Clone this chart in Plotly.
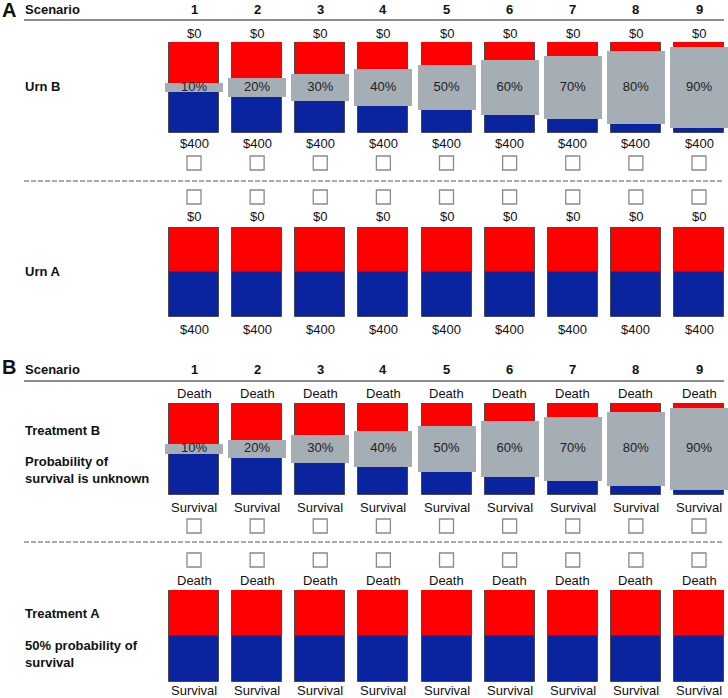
import plotly.graph_objects as go

# ---------------- data ----------------
scenarios = [1, 2, 3, 4, 5, 6, 7, 8, 9]
unknown_pct = [10, 20, 30, 40, 50, 60, 70, 80, 90]   # ambiguous (grey) share, option B
known_red_share = 0.5                                 # option A: 50/50
urn_top_label = "$0"
urn_bottom_label = "$400"
med_top_label = "Death"
med_bottom_label = "Survival"

# ---------------- layout constants (pixels) ----------------
W, H = 728, 698
COL_FIRST_PX = 194.0
COL_STEP_PX = 63.125
BAR_W_PX = 50
GREY_W_PX = 58
RED = "#FF0000"
BLUE = "#0A24A0"
GREY = "#A5ADB5"
FONT = "Liberation Sans, Arial, sans-serif"

def py(p):          # pixel y -> paper y
    return 1 - p / H

def px2x(p):        # pixel x -> data x
    return 1 + (p - COL_FIRST_PX) / COL_STEP_PX

bar_w = BAR_W_PX / COL_STEP_PX
grey_w = GREY_W_PX / COL_STEP_PX

# rows: (axis name, top px, bottom px, has unknown band)
rows = [
    ("y", 42, 133, True),
    ("y2", 227, 317, False),
    ("y3", 403, 495, True),
    ("y4", 590, 682, False),
]

fig = go.Figure()
outline = dict(color="rgba(60,60,60,0.85)", width=1)
for ax, top, bot, unknown in rows:
    fig.add_trace(go.Bar(x=scenarios, y=[1 - known_red_share] * 9, base=[known_red_share] * 9,
                         width=bar_w, marker=dict(color=RED, line=outline), yaxis=ax,
                         hoverinfo="skip", showlegend=False))
    fig.add_trace(go.Bar(x=scenarios, y=[known_red_share] * 9, base=[0] * 9,
                         width=bar_w, marker=dict(color=BLUE, line=outline), yaxis=ax,
                         hoverinfo="skip", showlegend=False))
    if unknown:
        sh = [p / 100 for p in unknown_pct]
        fig.add_trace(go.Bar(x=scenarios, y=sh, base=[0.5 - s / 2 for s in sh],
                             width=grey_w, marker=dict(color=GREY, line=dict(width=0)),
                             yaxis=ax, hoverinfo="skip", showlegend=False))
        fig.add_trace(go.Scatter(x=scenarios, y=[0.5] * 9, mode="text",
                                 text=[f"{p}%" for p in unknown_pct],
                                 textfont=dict(family=FONT, size=13, color="#222222"),
                                 yaxis=ax, hoverinfo="skip", showlegend=False,
                                 cliponaxis=False))

layout_axes = {}
for i, (ax, top, bot, unknown) in enumerate(rows):
    key = "yaxis" if ax == "y" else "yaxis" + ax[1:]
    layout_axes[key] = dict(domain=[py(bot), py(top)], range=[0, 1], visible=False,
                            fixedrange=True, anchor="x")

fig.update_layout(
    width=W, height=H, margin=dict(l=0, r=0, t=0, b=0),
    paper_bgcolor="white", plot_bgcolor="white",
    barmode="overlay", bargap=0,
    xaxis=dict(range=[px2x(0), px2x(W)], visible=False, fixedrange=True),
    font=dict(family=FONT, size=13, color="#111111"),
    **layout_axes,
)

ann = []
def text(x, xref, ypx, s, size=13, bold=False, xanchor="center"):
    ann.append(dict(x=x, xref=xref, y=py(ypx), yref="paper", text=f"<b>{s}</b>" if bold else s,
                    showarrow=False, xanchor=xanchor, yanchor="middle", align=xanchor if xanchor != "center" else "center",
                    font=dict(family=FONT, size=size, color="#111111")))

# panel letters / headers
text(0, "paper", 10, "A", size=20, bold=True, xanchor="left")
text(0, "paper", 367, "B", size=20, bold=True, xanchor="left")
text(23 / W, "paper", 10, "Scenario", bold=True, xanchor="left")
text(23 / W, "paper", 369, "Scenario", bold=True, xanchor="left")
for s in scenarios:
    text(s, "x", 10, str(s), bold=True)
    text(s, "x", 369, str(s), bold=True)
    # urns
    text(s, "x", 33, urn_top_label)
    text(s, "x", 143, urn_bottom_label)
    text(s, "x", 217, urn_top_label)
    text(s, "x", 329, urn_bottom_label)
    # treatments
    text(s, "x", 393, med_top_label)
    text(s, "x", 507, med_bottom_label)
    text(s, "x", 580, med_top_label)
    text(s, "x", 690, med_bottom_label)

# row labels
text(23 / W, "paper", 87, "Urn B", bold=True, xanchor="left")
text(23 / W, "paper", 271, "Urn A", bold=True, xanchor="left")
text(23 / W, "paper", 430, "Treatment B", bold=True, xanchor="left")
text(23 / W, "paper", 470, "Probability of<br>survival is unknown", bold=True, xanchor="left")
text(23 / W, "paper", 613, "Treatment A", bold=True, xanchor="left")
text(23 / W, "paper", 654, "50% probability of<br>survival", bold=True, xanchor="left")

shapes = []
# header rules
for ypx in (20, 381):
    shapes.append(dict(type="line", xref="paper", yref="paper", x0=24 / W, x1=724 / W,
                       y0=py(ypx), y1=py(ypx), line=dict(color="#666666", width=1.5)))
# dashed separators
for ypx in (181, 542):
    shapes.append(dict(type="line", xref="paper", yref="paper", x0=24 / W, x1=724 / W,
                       y0=py(ypx), y1=py(ypx), line=dict(color="#555555", width=1, dash="5px,2px")))
# check boxes
half = 7 / COL_STEP_PX
for ycen in (163, 197, 526, 560):
    for s in scenarios:
        shapes.append(dict(type="rect", xref="x", yref="paper", x0=s - half, x1=s + half,
                           y0=py(ycen + 7), y1=py(ycen - 7),
                           line=dict(color="#8A8A8A", width=1.3), fillcolor="white"))

fig.update_layout(annotations=ann, shapes=shapes)
fig.write_html("out.html", config={"displayModeBar": False},
               post_script="document.body.style.margin='0';document.body.style.overflow='hidden';")
